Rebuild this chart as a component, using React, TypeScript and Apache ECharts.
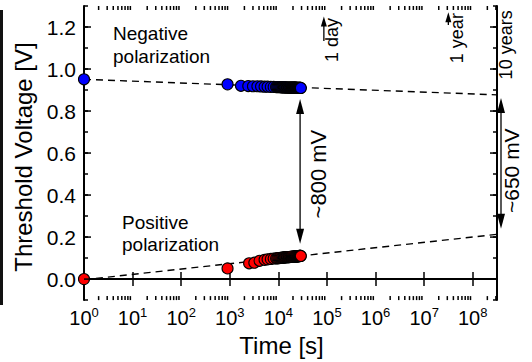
import React, { useEffect, useRef } from 'react';
import * as echarts from 'echarts';

const FONT = "'Liberation Sans', Arial, Helvetica, sans-serif";

// Measured threshold voltage vs. time
const negativeTime = [1, 900, 1700, 2400, 3000, 3700, 4400, 5200, 6000, 7000, 8000, 9000,
  9500, 10000, 10500, 11000, 11500, 12000, 12500, 13000, 13500, 14000, 14500, 15000, 15500, 16000, 16500, 17000, 17500, 18000, 18500, 19000,
  19500, 20000, 20500, 21000, 21500, 22000, 22500, 23000, 23500, 24000, 24500, 25000, 25500, 26000, 26500, 27000, 27500, 28000, 28500, 29000];
const negativeVoltage = [0.951, 0.927, 0.920, 0.919, 0.918, 0.918, 0.917, 0.916, 0.916, 0.915, 0.915, 0.914,
  0.914, 0.914, 0.914, 0.914, 0.913, 0.913, 0.913, 0.913, 0.913, 0.913, 0.912, 0.912, 0.912, 0.912, 0.912, 0.912, 0.912, 0.912, 0.911, 0.911,
  0.911, 0.911, 0.911, 0.911, 0.911, 0.911, 0.911, 0.911, 0.910, 0.910, 0.910, 0.910, 0.910, 0.910, 0.910, 0.910, 0.910, 0.910, 0.910, 0.910];
const positiveTime = [1, 900, 2500, 3200, 4100, 5200, 6000, 7000, 8000, 9000,
  9500, 10000, 10500, 11000, 11500, 12000, 12500, 13000, 13500, 14000, 14500, 15000, 15500, 16000, 16500, 17000, 17500, 18000, 18500, 19000,
  19500, 20000, 20500, 21000, 21500, 22000, 22500, 23000, 23500, 24000, 24500, 25000, 25500, 26000, 26500, 27000, 27500, 28000, 28500, 29000];
const positiveVoltage = [0.0, 0.051, 0.075, 0.078, 0.087, 0.092, 0.094, 0.096, 0.098, 0.099,
  0.099, 0.100, 0.100, 0.101, 0.101, 0.102, 0.102, 0.103, 0.103, 0.104, 0.104, 0.104, 0.105, 0.105, 0.105, 0.105, 0.106, 0.106, 0.106, 0.106,
  0.107, 0.107, 0.107, 0.107, 0.107, 0.108, 0.108, 0.108, 0.108, 0.108, 0.109, 0.109, 0.109, 0.109, 0.109, 0.110, 0.110, 0.110, 0.110, 0.110];

// Extrapolation (dashed) lines
const fitTime = [1, 3.16e8];
const negativeFit = [0.951, 0.877];
const positiveFit = [-0.003, 0.213];

// Axes
const xMin = 1;
const xMax = 3.16e8;
const yMin = -0.1;
const yMax = 1.3;
const yStep = 0.1;
const yMajorTicks = [0, 0.2, 0.4, 0.6, 0.8, 1.0, 1.2];
const xDecades = [0, 1, 2, 3, 4, 5, 6, 7, 8];
const xMinorMultipliers = [2, 3, 4, 5, 6, 7, 8, 9];

// Annotations
const windowNow = { time: 28000, top: 0.857, bottom: 0.168, label: '~800 mV', labelV: 0.5 };
const windowTenYears = { top: 0.862, bottom: 0.24, label: '~650 mV', labelV: 0.516 };
const dayMarker = { time: 86400, tip: 1.25, base: 1.133, label: '1 day', labelV: 1.138 };
const yearMarker = { time: 3.15e7, tip: 1.27, base: 1.21, label: '1 year', labelV: 1.147 };
const tenYearsLabel = { label: '10 years', labelV: 1.115 };

const zip = (xs: number[], ys: number[]) => xs.map((x, i) => [x, ys[i]]);

export default function App() {
  const ref = useRef<HTMLDivElement>(null);
  useEffect(() => {
    if (!ref.current) return;
    const chart = echarts.init(ref.current, null, { renderer: 'svg' });

    const tickData: number[][] = [];
    xDecades.forEach((k) => {
      xMinorMultipliers.forEach((m) => {
        const t = m * Math.pow(10, k);
        if (t < xMax) tickData.push([t, 0.5, 0]);
      });
    });
    yMajorTicks.forEach((v) => tickData.push([10, v, 1]));

    const axisLineStyle = { color: '#000', width: 2 };
    const tickStyle = { color: '#000', width: 1.5 };

    const option: any = {
      animation: false,
      textStyle: { fontFamily: FONT },
      grid: { left: 84, right: 35, top: 6, bottom: 56, containLabel: false },
      xAxis: [
        {
          type: 'log', logBase: 10, min: xMin, max: xMax, position: 'bottom',
          axisLine: { show: true, lineStyle: axisLineStyle },
          axisTick: { show: true, inside: true, length: 7, lineStyle: tickStyle },
          splitLine: { show: false },
          axisLabel: {
            showMaxLabel: false,
            margin: 6,
            formatter: (v: number) => `{b|10}{s|${Math.round(Math.log10(v))}}`,
            rich: {
              b: { fontSize: 20, color: '#000', fontFamily: FONT, lineHeight: 24 },
              s: { fontSize: 13, color: '#000', fontFamily: FONT, lineHeight: 13, verticalAlign: 'top' },
            },
          },
          name: 'Time [s]', nameLocation: 'middle', nameGap: 29,
          nameTextStyle: { fontSize: 24, color: '#000', fontFamily: FONT, padding: [0, 18, 0, 0] },
        },
        {
          type: 'log', logBase: 10, min: xMin, max: xMax, position: 'top',
          axisLine: { show: true, lineStyle: axisLineStyle },
          axisTick: { show: true, inside: true, length: 7, lineStyle: tickStyle },
          axisLabel: { show: false },
          splitLine: { show: false },
        },
      ],
      yAxis: [
        {
          type: 'value', min: yMin, max: yMax, interval: yStep, position: 'left',
          axisLine: { show: true, lineStyle: axisLineStyle },
          axisTick: { show: true, inside: true, length: 4, lineStyle: tickStyle },
          splitLine: { show: false },
          axisLabel: {
            margin: 8, fontSize: 21, color: '#000', fontFamily: FONT,
            formatter: (v: number) => {
              const n = Math.round(v * 10);
              return Math.abs(n) % 2 === 0 ? (n / 10).toFixed(1) : '';
            },
          },
          name: 'Threshold Voltage [V]', nameLocation: 'middle', nameGap: 39,
          nameTextStyle: { fontSize: 24, color: '#000', fontFamily: FONT, padding: [0, 8, 0, 0] },
        },
        {
          type: 'value', min: yMin, max: yMax, interval: yStep, position: 'right',
          axisLine: { show: true, lineStyle: axisLineStyle },
          axisTick: { show: true, inside: true, length: 4, lineStyle: tickStyle },
          axisLabel: { show: false },
          splitLine: { show: false },
        },
      ],
      series: [
        {
          name: 'Negative fit', type: 'line', data: zip(fitTime, negativeFit), symbol: 'none', z: 1,
          lineStyle: { color: '#000', width: 1.4, type: [7, 5] },
        },
        {
          name: 'Positive fit', type: 'line', data: zip(fitTime, positiveFit), symbol: 'none', z: 1,
          lineStyle: { color: '#000', width: 1.4, type: [7, 5] },
        },
        {
          name: 'Negative polarization', type: 'scatter', data: zip(negativeTime, negativeVoltage), z: 3,
          symbol: 'circle', symbolSize: 11,
          itemStyle: { color: '#0000ff', borderColor: '#000', borderWidth: 1.1, opacity: 1 },
        },
        {
          name: 'Positive polarization', type: 'scatter', data: zip(positiveTime, positiveVoltage), z: 3,
          symbol: 'circle', symbolSize: 11,
          itemStyle: { color: '#ff0000', borderColor: '#000', borderWidth: 1.1, opacity: 1 },
        },
        {
          name: 'ticks', type: 'custom', silent: true, clip: false, z: 5,
          data: tickData,
          renderItem: (params: any, api: any) => {
            const cs = params.coordSys;
            const kind = api.value(2);
            const style = { stroke: '#000', lineWidth: 1.5 };
            const p = api.coord([api.value(0), api.value(1)]);
            if (kind === 0) {
              const x = p[0];
              const b = cs.y + cs.height;
              return {
                type: 'group',
                children: [
                  { type: 'line', shape: { x1: x, y1: b, x2: x, y2: b - 4 }, style },
                  { type: 'line', shape: { x1: x, y1: cs.y, x2: x, y2: cs.y + 4 }, style },
                ],
              };
            }
            const y = p[1];
            const r = cs.x + cs.width;
            return {
              type: 'group',
              children: [
                { type: 'line', shape: { x1: cs.x, y1: y, x2: cs.x + 7, y2: y }, style },
                { type: 'line', shape: { x1: r - 7, y1: y, x2: r, y2: y }, style },
              ],
            };
          },
        },
      ],
    };

    chart.setOption(option);

    const px = (x: number, y: number) =>
      chart.convertToPixel({ xAxisIndex: 0, yAxisIndex: 0 }, [x, y]) as number[];

    const arrow = (x: number, yTop: number, yBottom: number, up: boolean, down: boolean, w: number, l: number) => {
      const els: any[] = [];
      els.push({
        type: 'line', z: 10,
        shape: { x1: x, y1: up ? yTop + l * 0.8 : yTop, x2: x, y2: down ? yBottom - l * 0.8 : yBottom },
        style: { stroke: '#000', lineWidth: 1.3 },
      });
      if (up) {
        els.push({ type: 'polygon', z: 10, shape: { points: [[x, yTop], [x - w / 2, yTop + l], [x + w / 2, yTop + l]] }, style: { fill: '#000' } });
      }
      if (down) {
        els.push({ type: 'polygon', z: 10, shape: { points: [[x, yBottom], [x - w / 2, yBottom - l], [x + w / 2, yBottom - l]] }, style: { fill: '#000' } });
      }
      return els;
    };
    const vText = (text: string, x: number, y: number, size: number) => ({
      type: 'text', z: 10, x, y, rotation: Math.PI / 2,
      style: { text, fontSize: size, fontFamily: FONT, fill: '#000', align: 'center', verticalAlign: 'middle' },
    });

    const nowX = px(windowNow.time, 0)[0];
    const rightX = px(xMax, 0)[0];
    const dayX = px(dayMarker.time, 0)[0];
    const yearX = px(yearMarker.time, 0)[0];

    const graphic: any[] = [
      { type: 'rect', shape: { x: 0, y: 10, width: 3, height: 295 }, style: { fill: '#111' } },
      ...arrow(nowX, px(0, windowNow.top)[1], px(0, windowNow.bottom)[1], true, true, 8, 15),
      vText(windowNow.label, nowX + 18, px(0, windowNow.labelV)[1], 22),
      ...arrow(rightX + 4, px(0, windowTenYears.top)[1], px(0, windowTenYears.bottom)[1], true, true, 8, 15),
      vText(windowTenYears.label, rightX + 14, px(0, windowTenYears.labelV)[1], 21),
      ...arrow(dayX, px(0, dayMarker.tip)[1], px(0, dayMarker.base)[1], true, false, 6, 10),
      vText(dayMarker.label, dayX + 8, px(0, dayMarker.labelV)[1], 18),
      ...arrow(yearX, px(0, yearMarker.tip)[1], px(0, yearMarker.base)[1], true, false, 6, 10),
      vText(yearMarker.label, yearX + 8.5, px(0, yearMarker.labelV)[1], 18),
      vText(tenYearsLabel.label, rightX + 9, px(0, tenYearsLabel.labelV)[1], 18),
      {
        type: 'text', z: 10, x: 113, y: 22,
        style: { text: 'Negative\npolarization', fontSize: 19, lineHeight: 23, fontFamily: FONT, fill: '#000', align: 'left', verticalAlign: 'top' },
      },
      {
        type: 'text', z: 10, x: 122, y: 211,
        style: { text: 'Positive\npolarization', fontSize: 19, lineHeight: 22, fontFamily: FONT, fill: '#000', align: 'left', verticalAlign: 'top' },
      },
    ];
    chart.setOption({ graphic });

    return () => chart.dispose();
  }, []);

  return (
    <div
      ref={ref}
      style={{ position: 'absolute', left: 0, top: 0, width: 532, height: 362, background: '#fff' }}
    />
  );
}
